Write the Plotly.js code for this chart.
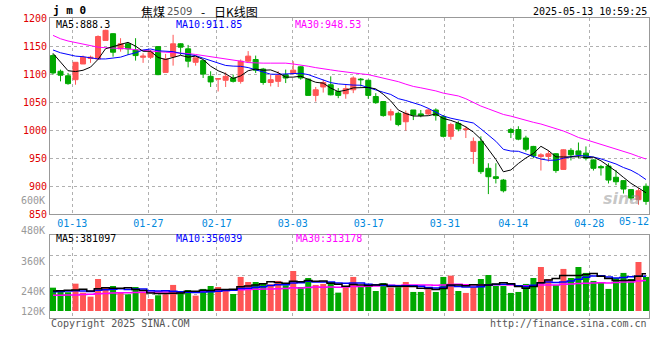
<!DOCTYPE html>
<html><head><meta charset="utf-8">
<script src="https://cdn.plot.ly/plotly-3.0.1.min.js"></script>
<style>html,body{margin:0;padding:0;background:#fff;}#chart{width:660px;height:360px;}</style>
</head><body><div id="chart"></div>
<script>
// ---- data ----
const idx = Array.from({length: 80}, (_, i) => i);
const opens = [1133,1105,1097,1090,1118,1128,1127,1160,1172,1145, 1154,1143,1130,1130,1149,1103,1131,1154,1145,1121, 1124,1096,1091,1089,1093,1087,1123,1126,1109,1085, 1087,1099,1101,1113,1091,1062,1077,1081,1069,1065, 1072,1091,1089,1060,1051,1027,1030,1015,1036,1029, 1029,1036,1024,989,1012,1001,962,980,932,917, 911,1001,1001,986,971,953,953,958,930,964, 963,959,947,935,936,916,910,894,876,900];
const highs = [1136,1108,1102,1121,1133,1133,1169,1179,1173,1164, 1155,1164,1137,1143,1150,1136,1170,1155,1152,1129, 1124,1105,1093,1103,1099,1126,1141,1133,1111,1099, 1105,1108,1123,1114,1092,1077,1090,1096,1075,1081, 1096,1093,1090,1066,1052,1038,1033,1035,1036,1036, 1039,1039,1027,1013,1016,1007,987,989,941,941, 913,1004,1007,990,972,959,964,959,966,968, 978,971,948,938,941,929,911,895,897,905];
const lows = [1099,1087,1081,1081,1118,1120,1127,1160,1131,1140, 1134,1124,1120,1127,1098,1103,1115,1134,1112,1115, 1093,1077,1069,1077,1085,1083,1121,1102,1081,1078, 1077,1084,1099,1090,1062,1051,1067,1062,1057,1056, 1066,1078,1056,1047,1024,1017,1007,999,1018,1023, 1027,1017,987,983,998,986,940,922,886,905, 889,986,982,962,950,928,944,924,929,946, 950,946,928,919,905,902,887,875,867,867];
const closes = [1102,1098,1083,1121,1130,1130,1167,1178,1139,1154, 1145,1133,1132,1139,1099,1127,1154,1148,1123,1129, 1100,1086,1092,1096,1087,1123,1132,1107,1085,1090, 1098,1093,1107,1093,1062,1072,1085,1063,1062,1074, 1093,1090,1062,1049,1026,1033,1010,1030,1027,1026, 1036,1026,989,1010,1002,1002,980,926,917,914, 892,996,984,966,954,956,958,928,965,956, 956,950,932,933,911,908,895,879,892,873];
const ma5 = [1137,1121,1106,1104.5,1106.8,1112.4,1126.2,1145.2,1148.8,1153.6, 1156.6,1149.8,1140.6,1140.6,1129.6,1126,1130.2,1133.4,1130.2,1132, 1126,1114,1106,1100.6,1092.2,1096.8,1106,1109,1106.8,1107.4, 1102.4,1094.6,1094.6,1096.2,1090.6,1085.4,1083.8,1075,1068.8,1071.2, 1075.4,1076.4,1076.2,1073.6,1064,1052,1036,1029.6,1025.2,1025.2, 1025.8,1029,1020.8,1017.4,1012.6,1005.8,996.6,984,965.4,947.8, 925.8,929,940.6,950.4,958.4,971.2,963.6,952.4,952.2,952.6, 952.6,951,951.8,945.4,936.4,926.8,915.8,905.2,897,888.3];
const ma10 = [1143,1138,1135,1132,1131,1129,1127,1127,1128.5,1130.2, 1134.5,1138,1142.9,1144.7,1141.6,1141.3,1140,1137,1135.4,1132.9, 1128.4,1123.7,1119.7,1115.4,1114.2,1113.8,1111.6,1107.5,1103.7,1099.8, 1099.6,1100.3,1101.8,1101.5,1099,1093.9,1089.2,1084.8,1082.5,1080.9, 1080.4,1080.1,1075.6,1071.2,1067.6,1063.7,1056.2,1052.9,1049.4,1044.6, 1038.9,1032.5,1025.2,1021.3,1018.9,1015.8,1012.8,1002.4,991.4,980.2, 965.8,962.8,962.3,957.9,953.1,948.5,946.3,946.5,950,953, 955,954,952.1,948.8,944.5,939.7,933.4,928.5,921.2,911.85];
const ma30 = [1169,1163,1159,1156,1154,1151,1148,1147,1146.5,1146, 1145,1143.5,1142,1141,1140,1139,1138.5,1137.5,1136.5,1135, 1133,1131,1130,1128,1126,1123,1120.5,1119.5,1119.5,1119.5, 1119.5,1119.5,1118,1116.5,1114,1111.5,1110,1107.5,1105.5,1103.5, 1102,1100.5,1099,1096,1093.5,1090,1086.5,1082,1078,1075.5, 1073,1070,1066,1063,1061,1056,1049,1043,1038,1033, 1028,1025,1021,1018,1014,1011,1007,1003.5,998.5,993, 987,983,979,975,971,966,962,958,953,948.53];
// volume, in thousands
const vol = [239,215,192,280,188,147,328,246,256,188, 171,246,188,123,161,171,267,195,215,157, 226,256,246,215,174,349,297,297,277,274, 308,263,410,246,338,267,277,297,188,243, 349,249,277,205,287,239,243,297,195,195, 222,195,349,362,205,185,243,328,369,256, 256,185,195,277,338,451,328,267,431,338, 451,390,308,297,226,338,390,328,502,349];
const volMa5 = [205,208,212,215,223,204,227,238,233,233, 238,221,210,183,178,178,182,183,202,201, 212,210,220,220,223,248,256,266,279,299, 291,284,306,300,313,305,308,285,273,254, 271,265,261,265,273,251,250,254,252,234, 230,221,231,265,267,259,269,265,266,276, 290,279,252,234,250,289,318,332,363,363, 363,375,384,357,334,312,312,316,357,381.1];
const volMa10 = [198,200,204,208,205,200,212,218,222,228, 221,224,224,208,205,208,202,197,193,189, 195,196,202,211,212,230,233,243,249,261, 269,270,286,290,306,298,296,296,287,284, 288,286,273,269,264,261,258,258,258,254, 241,236,243,258,250,245,245,248,265,271, 275,274,258,250,263,290,298,292,298,307, 326,347,358,360,349,337,344,350,357,356.0];
const volMa30 = [160,161,163,165,168,172,176,180,183,186, 188,190,191,192,194,195,196,196,196,197, 200,204,208,211,214,217,220,222,224,226, 228,230,237,236,241,245,243,245,243,245, 251,251,254,256,261,263,262,266,265,266, 266,264,267,272,273,268,266,267,270,270, 268,265,258,259,259,265,267,266,274,277, 281,285,286,289,287,291,296,297,307,313.2];
const tickIdx = [3,13,22,32,42,52,61,71];
const tickText = ['01-13','01-27','02-17','03-03','03-17','03-31','04-14','04-28'];
const lastLabel = '05-12';
const priceTicks = [850,900,950,1000,1050,1100,1150,1200];
const volLabels = ['600K','480K','360K','240K','120K'];

// ---- styling ----
const RED = '#ff5555', GREEN = '#00a800';
const MONO = 'DejaVu Sans Mono, Liberation Mono, monospace';
const CJK = 'Noto Sans CJK SC, sans-serif';
const gridPos = tickIdx.map(i => i * 1.0129 - 0.467);
const barColors = idx.map(i => closes[i] >= opens[i] ? RED : GREEN);

const traces = [
  {type:'candlestick', x: idx, open: opens, high: highs, low: lows, close: closes,
   xaxis:'x', yaxis:'y', whiskerwidth:0,
   increasing:{line:{color:RED, width:1}, fillcolor:RED},
   decreasing:{line:{color:GREEN, width:1}, fillcolor:GREEN}, hoverinfo:'skip'},
  {type:'scatter', mode:'lines', x: idx, y: ma30, xaxis:'x', yaxis:'y', line:{color:'#ff00ff', width:1}},
  {type:'scatter', mode:'lines', x: idx, y: ma10, xaxis:'x', yaxis:'y', line:{color:'#0000ff', width:1}},
  {type:'scatter', mode:'lines', x: idx, y: ma5, xaxis:'x', yaxis:'y', line:{color:'#000000', width:1}},
  {type:'bar', x: idx, y: vol, xaxis:'x2', yaxis:'y2', width:0.8, marker:{color: barColors, line:{width:0}}},
  {type:'scatter', mode:'lines', x: idx, y: volMa30, xaxis:'x2', yaxis:'y2', line:{color:'#ff00ff', width:1.5, shape:'hvh'}},
  {type:'scatter', mode:'lines', x: idx, y: volMa10, xaxis:'x2', yaxis:'y2', line:{color:'#0000ff', width:1.5, shape:'hvh'}},
  {type:'scatter', mode:'lines', x: idx, y: volMa5, xaxis:'x2', yaxis:'y2', line:{color:'#000000', width:1.5, shape:'hvh'}}
];

const axisCommon = {showline:true, mirror:true, linecolor:'#999', linewidth:1, zeroline:false,
  gridcolor:'#b0b0b0', griddash:'dot', gridwidth:1, fixedrange:true};

function ann(text, x, y, color, xanchor, extra) {
  return Object.assign({text, x, y, xref:'paper', yref:'paper', showarrow:false,
    xanchor: xanchor || 'left', yanchor:'middle', font:{family:MONO, size:10, color: color || '#000'}}, extra || {});
}
const pY = px => (318 - px) / 300;      // pixel row -> paper y
const pX = px => (px - 50) / 599;       // pixel column -> paper x

const volLabelRows = [200.7, 230.3, 261, 291.3, 311];
const annotations = [
  ann('<b>j m 0</b>', pX(51), pY(11), '#000', 'left', {font:{family:MONO, size:11, color:'#000'}}),
  ann('焦煤', pX(139), pY(11.5), '#000', 'left', {font:{family:CJK, size:12, color:'#000'}}),
  ann('2509', pX(165), pY(12), '#555', 'left', {font:{family:'DejaVu Sans, sans-serif', size:10, color:'#555'}}),
  ann('-', pX(203), pY(11.5), '#000', 'center', {font:{family:CJK, size:12, color:'#000'}}),
  ann('日K线图', pX(212), pY(11.5), '#000', 'left', {font:{family:CJK, size:12, color:'#000'}}),
  ann('2025-05-13 10:59:25', pX(649), pY(12), '#000', 'right'),
  ann('MA5:888.3', pX(54), pY(24.5), '#000'),
  ann('MA10:911.85', pX(174), pY(24.5), '#0000ff'),
  ann('MA30:948.53', pX(293), pY(24.5), '#ff00ff'),
  ann('MA5:381097', pX(54), pY(238.3), '#000'),
  ann('MA10:356039', pX(174), pY(238.3), '#0000ff'),
  ann('MA30:313178', pX(294), pY(238.3), '#ff00ff'),
  ann(lastLabel, pX(634), pY(221.7), '#0088dd', 'center'),
  ann('Copyright 2025 SINA.COM', pX(49), pY(323.5), '#555'),
  ann('http://finance.sina.com.cn', pX(649), pY(323.5), '#555', 'right'),
  ann('<i><b>sina</b></i>', pX(621), pY(199), 'rgba(150,150,150,0.55)', 'center',
      {font:{family:'DejaVu Sans, sans-serif', size:16, color:'rgba(150,150,150,0.55)'}})
].concat(volLabels.map((t, k) => ann(t, pX(46.5), pY(volLabelRows[k]), '#999', 'right')));

const layout = {
  width:660, height:360, margin:{l:50, r:11, t:18, b:42},
  paper_bgcolor:'#fff', plot_bgcolor:'#fff', showlegend:false,
  boxgap:0.33, boxgroupgap:0, bargap:0.2, hovermode:false,
  xaxis: Object.assign({}, axisCommon, {anchor:'y', range:[-0.4, 79.4], rangeslider:{visible:false},
    tickmode:'array', tickvals: gridPos, ticktext: tickText, ticks:'',
    tickfont:{family:MONO, size:10, color:'#0088dd'}}),
  yaxis: Object.assign({}, axisCommon, {domain:[0.3457, 1], range:[850, 1200],
    tickmode:'array', tickvals: priceTicks, ticks:'',
    tickfont:{family:MONO, size:10, color:'#e00000'}}),
  xaxis2: Object.assign({}, axisCommon, {anchor:'y2', range:[-0.4, 79.4],
    tickmode:'array', tickvals: gridPos, showticklabels:false, ticks:''}),
  yaxis2: Object.assign({}, axisCommon, {domain:[0, 0.2777], range:[-72, 782],
    tickmode:'array', tickvals:[164, 367, 568], showticklabels:false, ticks:''}),
  annotations
};

Plotly.newPlot('chart', traces, layout, {staticPlot:true, displayModeBar:false});
</script></body></html>
